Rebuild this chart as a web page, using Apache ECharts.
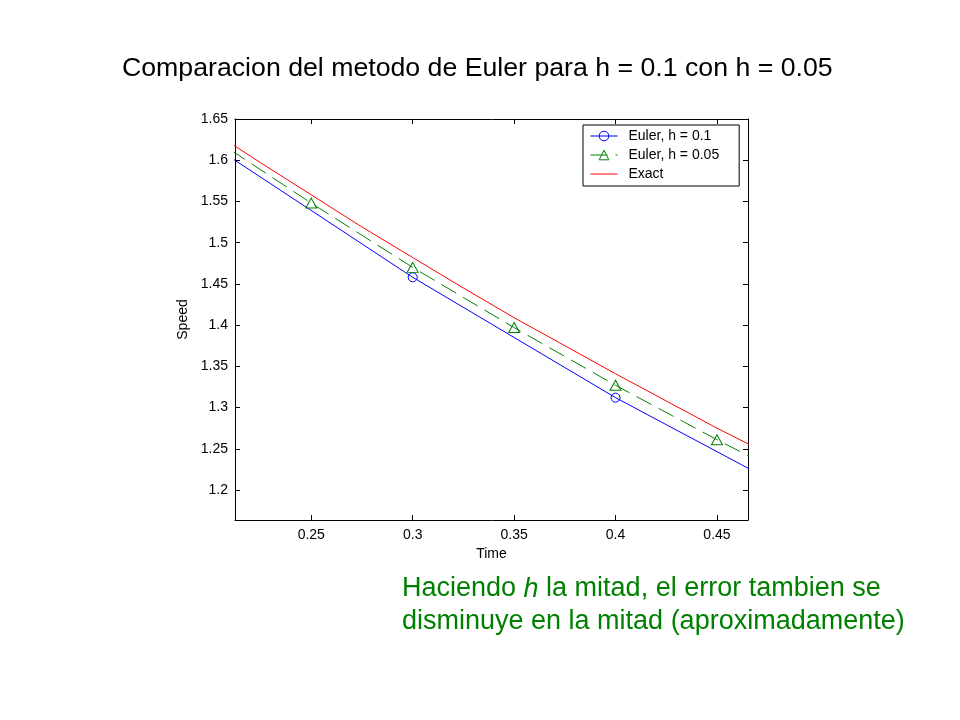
<!DOCTYPE html>
<html>
<head>
<meta charset="utf-8">
<script src="https://cdn.jsdelivr.net/npm/echarts@6/dist/echarts.min.js"></script>
<style>
  html, body { margin: 0; padding: 0; background: #fff; }
  #chart { width: 960px; height: 720px; }
</style>
</head>
<body>
<div id="chart"></div>
<script>
// values
const timeH1 = [0.2, 0.3, 0.4, 0.5];
const speedH1 = [1.620, 1.458, 1.312, 1.181];

const timeH2 = [0.2, 0.25, 0.3, 0.35, 0.4, 0.45, 0.5];
const speedH2 = [1.629, 1.548, 1.470, 1.397, 1.327, 1.261, 1.198];

const timeExact = [0.2, 0.225, 0.25, 0.275, 0.3, 0.325, 0.35, 0.375, 0.4, 0.425, 0.45, 0.475, 0.5];
const speedExact = [1.637, 1.597, 1.558, 1.519, 1.482, 1.445, 1.409, 1.375, 1.341, 1.308, 1.275, 1.244, 1.213];

const xTicks = [0.25, 0.3, 0.35, 0.4, 0.45];
const xTickLabels = ['0.25', '0.3', '0.35', '0.4', '0.45'];
const yTicks = [1.2, 1.25, 1.3, 1.35, 1.4, 1.45, 1.5, 1.55, 1.6, 1.65];
const yTickLabels = ['1.2', '1.25', '1.3', '1.35', '1.4', '1.45', '1.5', '1.55', '1.6', '1.65'];

const font = "'Liberation Sans', Arial, Helvetica, sans-serif";
const green = '#008000';
const clear = 'rgba(255,255,255,0)';

function pairs(xs, ys) {
  return xs.map((x, i) => [x, ys[i]]);
}

function boxAxis(pos, ticks, labels, withLabels) {
  return {
    type: 'value',
    position: pos,
    axisLine: { show: true, onZero: false, lineStyle: { color: '#000', width: 1 } },
    axisTick: { show: true, inside: true, length: 5, customValues: ticks, lineStyle: { color: '#000', width: 1 } },
    axisLabel: {
      show: withLabels,
      customValues: ticks,
      color: '#000',
      fontSize: 14,
      fontFamily: font,
      formatter: (v) => {
        let i = ticks.findIndex(t => Math.abs(t - v) < 1e-9);
        return i >= 0 ? labels[i] : '';
      }
    },
    splitLine: { show: false }
  };
}

let chart = echarts.init(document.getElementById('chart'));

let xBottom = boxAxis('bottom', xTicks, xTickLabels, true);
xBottom.min = 0.2124;
xBottom.max = 0.4653;
xBottom.axisLabel.margin = 8;
xBottom.name = 'Time';
xBottom.nameLocation = 'middle';
xBottom.nameGap = 26;
xBottom.nameTextStyle = { color: '#000', fontSize: 14, fontFamily: font };

let xTop = boxAxis('top', xTicks, xTickLabels, false);
xTop.min = 0.2124;
xTop.max = 0.4653;

let yLeft = boxAxis('left', yTicks, yTickLabels, true);
yLeft.min = 1.1636;
yLeft.max = 1.65;
yLeft.axisLabel.margin = 7;
yLeft.name = 'Speed';
yLeft.nameLocation = 'middle';
yLeft.nameGap = 36;
yLeft.nameTextStyle = { color: '#000', fontSize: 14, fontFamily: font };

let yRight = boxAxis('right', yTicks, yTickLabels, false);
yRight.min = 1.1636;
yRight.max = 1.65;

var option = {
  animation: false,
  backgroundColor: '#fff',
  grid: { left: 235, right: 212, top: 119, bottom: 200 },
  xAxis: [xBottom, xTop],
  yAxis: [yLeft, yRight],
  legend: {
    orient: 'vertical',
    left: 583,
    top: 125,
    padding: [4, 20, 5, 7],
    itemWidth: 27,
    itemHeight: 12,
    itemGap: 5,
    backgroundColor: '#fff',
    borderColor: '#000',
    borderWidth: 1,
    borderRadius: 0,
    selectedMode: false,
    lineStyle: { width: 1 },
    itemStyle: { borderWidth: 1 },
    textStyle: { color: '#000', fontSize: 14, fontFamily: font, padding: [0, 0, 0, 6] },
    data: [
      'Euler, h = 0.1',
      'Euler, h = 0.05',
      { name: 'Exact', itemStyle: { opacity: 0 } }
    ]
  },
  graphic: [
    {
      type: 'text',
      x: 122,
      y: 69,
      style: {
        text: 'Comparacion del metodo de Euler para h = 0.1 con h = 0.05',
        font: '26.7px ' + font,
        fill: '#000',
        verticalAlign: 'middle'
      }
    },
    {
      type: 'text',
      x: 402,
      y: 589,
      style: {
        text: '{n|Haciendo }{i|h}{n| la mitad, el error tambien se}',
        fill: green,
        verticalAlign: 'middle',
        rich: {
          n: { fontSize: 27, fontFamily: font, fill: green },
          i: { fontSize: 27, fontFamily: font, fontStyle: 'italic', fill: green }
        }
      }
    },
    {
      type: 'text',
      x: 402,
      y: 622,
      style: {
        text: 'disminuye en la mitad (aproximadamente)',
        font: '27px ' + font,
        fill: green,
        verticalAlign: 'middle'
      }
    }
  ],
  series: [
    {
      name: 'Euler, h = 0.1',
      type: 'line',
      data: pairs(timeH1, speedH1),
      symbol: 'circle',
      symbolSize: 9,
      clip: true,
      lineStyle: { color: '#0000ff', width: 1 },
      itemStyle: { color: clear, borderColor: '#0000ff', borderWidth: 1 },
      emphasis: { disabled: true }
    },
    {
      name: 'Euler, h = 0.05',
      type: 'line',
      data: pairs(timeH2, speedH2),
      symbol: 'triangle',
      symbolSize: [11, 10],
      clip: true,
      lineStyle: { color: green, width: 1, type: [17, 8] },
      itemStyle: { color: clear, borderColor: green, borderWidth: 1 },
      emphasis: { disabled: true }
    },
    {
      name: 'Exact',
      type: 'line',
      data: pairs(timeExact, speedExact),
      symbol: 'none',
      clip: true,
      lineStyle: { color: '#ff0000', width: 1 },
      itemStyle: { color: '#ff0000' },
      emphasis: { disabled: true }
    }
  ]
}
chart.setOption(option);
</script>
</body>
</html>
